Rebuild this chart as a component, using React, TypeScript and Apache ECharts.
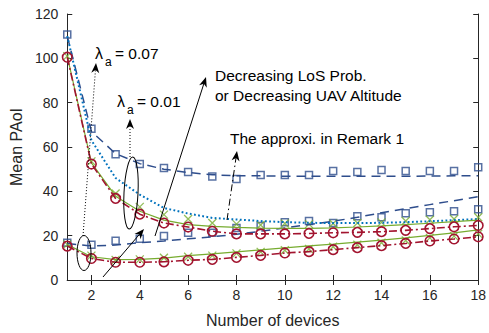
import React, { useEffect, useRef } from "react";
import * as echarts from "echarts";

const devices = [1, 2, 3, 4, 5, 6, 7, 8, 9, 10, 11, 12, 13, 14, 15, 16, 17, 18];
const xTicks = [2, 4, 6, 8, 10, 12, 14, 16, 18];

// lambda_a = 0.01 group (upper)
const blueUpperApprox = [110, 67, 57, 52.5, 50, 48.5, 47.5, 47, 47, 46.8, 46.8, 46.8, 46.8, 46.8, 46.8, 46.9, 47, 47];
const blueUpperSim = [110.7, 68.2, 56.7, 52.3, 50.5, 48.7, 46.7, 45.6, 47.4, 47.4, 47.4, 49.2, 48.7, 49.6, 49.2, 49.2, 49.2, 50.9];
const remarkApprox = [110, 63, 46, 38.5, 32.5, 30, 28, 27.3, 26.6, 26.1, 25.8, 25.7, 25.7, 25.8, 26.1, 26.5, 27, 27.5];
const greenUpperApprox = [101, 52.8, 37.8, 31, 27, 25, 24.2, 23.7, 23.4, 23.3, 23.3, 23.5, 23.9, 24.4, 25, 25.6, 26.3, 27];
const greenUpperSim = [101, 53.5, 39, 33, 29.5, 27.5, 25.7, 25.2, 24.8, 25.5, 25.2, 25.5, 25.7, 26, 26.6, 27.2, 27.5, 28.3];
const redUpper = [100.5, 52.3, 36.8, 29.7, 25.7, 23.9, 22, 20.8, 20.8, 20.8, 21, 21.3, 21.5, 21.8, 22.4, 23.2, 24, 24.6];

// lambda_a = 0.07 group (lower)
const blueLowerApprox = [16.5, 15.3, 15.8, 16.8, 17.6, 18.6, 19.5, 20.6, 22, 23.5, 25, 26.5, 28.3, 30.3, 32.2, 34, 35.8, 37.6];
const blueLowerSim = [16.8, 15.9, 17.7, 18.6, 19.9, 21.3, 21.3, 23.5, 24.4, 26.1, 26.6, 25.7, 28.8, 28.3, 30.1, 30.6, 31, 31.9];
const greenLowerApprox = [16, 10.5, 9.2, 9.3, 9.9, 11, 11.8, 12.7, 13.6, 14.5, 15.4, 16.2, 17.1, 18, 19, 20.1, 21.3, 22.6];
const greenLowerSim = [16, 11, 9, 9.3, 10, 10.5, 11, 12, 12.7, 13.4, 14, 15, 15.9, 16.8, 17.8, 19, 19.8, 20.8];
const redLower = [15.3, 9.7, 8, 8, 8.2, 8.9, 9.3, 10.2, 11.1, 12.2, 12.8, 13.7, 14.6, 15.5, 16.5, 17.6, 18.5, 19.5];

const DARK_BLUE = "#2E4D8C";
const LIGHT_BLUE = "#0072BD";
const RED = "#A2142F";
const GREEN = "#77AC30";
const AXIS = "#262626";
const FONT = "'Liberation Sans', Arial, Helvetica, sans-serif";

const pairs = (ys: number[]) => devices.map((x, i) => [x, ys[i]]);

function arrowHead(x1: number, y1: number, x2: number, y2: number, len = 10, half = 4) {
  const dx = x2 - x1;
  const dy = y2 - y1;
  const n = Math.sqrt(dx * dx + dy * dy);
  const ux = dx / n;
  const uy = dy / n;
  const px = -uy;
  const py = ux;
  const bx = x2 - ux * len;
  const by = y2 - uy * len;
  const nx = x2 - ux * len * 0.7;
  const ny = y2 - uy * len * 0.7;
  return {
    type: "polygon",
    shape: {
      points: [
        [x2, y2],
        [bx + px * half, by + py * half],
        [nx, ny],
        [bx - px * half, by - py * half],
      ],
    },
    style: { fill: "#000" },
    z: 100,
  };
}

function arrow(x1: number, y1: number, x2: number, y2: number, dash: any) {
  const dx = x2 - x1;
  const dy = y2 - y1;
  const n = Math.sqrt(dx * dx + dy * dy);
  const ex = x2 - (dx / n) * 6;
  const ey = y2 - (dy / n) * 6;
  return [
    {
      type: "line",
      shape: { x1, y1, x2: ex, y2: ey },
      style: { stroke: "#000", lineWidth: 1, lineDash: dash },
      z: 100,
    },
    arrowHead(x1, y1, x2, y2),
  ];
}

function txt(text: string, x: number, y: number, size: number) {
  return {
    type: "text",
    x,
    y,
    style: { text, fontSize: size, fontFamily: FONT, fill: "#000", verticalAlign: "middle", align: "left" },
    z: 100,
  };
}

export default function App() {
  const ref = useRef<HTMLDivElement>(null);
  useEffect(() => {
    if (!ref.current) return;
    const chart = echarts.init(ref.current, undefined, { renderer: "svg" });
    const sq = { symbol: "rect", symbolSize: 7, itemStyle: { color: "rgba(0,0,0,0)", borderColor: DARK_BLUE, borderWidth: 1.5 } };
    const xm = {
      symbol: "path://M0 0L10 10M10 0L0 10",
      symbolSize: 8,
      itemStyle: { color: "rgba(0,0,0,0)", borderColor: GREEN, borderWidth: 1.3 },
    };
    const circ = { symbol: "circle", symbolSize: 9.5, itemStyle: { color: "rgba(0,0,0,0)", borderColor: RED, borderWidth: 1.6 } };
    const lineSeries = (data: number[], color: string, type: any, width = 1.5) => ({
      type: "line",
      data: pairs(data),
      symbol: "none",
      lineStyle: { color, width, type },
      silent: true,
    });
    const scatter = (data: number[], m: any) => ({ type: "scatter", data: pairs(data), ...m, silent: true });

    const dashDot = [8, 3, 2, 3];
    const option: any = {
      animation: false,
      backgroundColor: "#fff",
      grid: { left: 65, top: 14, width: 415, height: 271, containLabel: false },
      xAxis: [
        {
          type: "value",
          min: 1,
          max: 18,
          name: "Number of devices",
          nameLocation: "middle",
          nameGap: 32,
          nameTextStyle: { fontSize: 16, fontFamily: FONT, color: AXIS },
          axisLine: { lineStyle: { color: AXIS, width: 1 } },
          axisTick: { inside: true, length: 5, customValues: xTicks, lineStyle: { color: AXIS } },
          axisLabel: { customValues: xTicks, fontSize: 14, fontFamily: FONT, color: AXIS, margin: 8 },
          splitLine: { show: false },
        },
        {
          type: "value",
          position: "top",
          min: 1,
          max: 18,
          axisLine: { lineStyle: { color: AXIS, width: 1 } },
          axisTick: { inside: true, length: 5, customValues: xTicks, lineStyle: { color: AXIS } },
          axisLabel: { show: false },
          splitLine: { show: false },
        },
      ],
      yAxis: [
        {
          type: "value",
          min: 0,
          max: 120,
          interval: 20,
          name: "Mean PAoI",
          nameLocation: "middle",
          nameGap: 43,
          nameTextStyle: { fontSize: 16, fontFamily: FONT, color: AXIS },
          axisLine: { show: true, lineStyle: { color: AXIS, width: 1 } },
          axisTick: { show: true, inside: true, length: 5, lineStyle: { color: AXIS } },
          axisLabel: { fontSize: 14, fontFamily: FONT, color: AXIS, margin: 9 },
          splitLine: { show: false },
        },
        {
          type: "value",
          position: "right",
          min: 0,
          max: 120,
          interval: 20,
          axisLine: { show: true, lineStyle: { color: AXIS, width: 1 } },
          axisTick: { show: true, inside: true, length: 5, lineStyle: { color: AXIS } },
          axisLabel: { show: false },
          splitLine: { show: false },
        },
      ],
      series: [
        lineSeries(blueUpperApprox, DARK_BLUE, [9, 6]),
        lineSeries(blueLowerApprox, DARK_BLUE, [9, 6]),
        scatter(blueUpperSim, sq),
        scatter(blueLowerSim, sq),
        lineSeries(remarkApprox, LIGHT_BLUE, [1.8, 2.4], 2),
        lineSeries(greenUpperApprox, GREEN, "solid", 1.2),
        lineSeries(greenLowerApprox, GREEN, "solid", 1.2),
        scatter(greenUpperSim, xm),
        scatter(greenLowerSim, xm),
        { ...lineSeries(redUpper, RED, dashDot, 1.6), symbol: circ.symbol, symbolSize: circ.symbolSize, showSymbol: true, itemStyle: circ.itemStyle },
        { ...lineSeries(redLower, RED, dashDot, 1.6), symbol: circ.symbol, symbolSize: circ.symbolSize, showSymbol: true, itemStyle: circ.itemStyle },
      ],
      graphic: [
        { type: "ellipse", x: 84, y: 253, shape: { cx: 0, cy: 0, rx: 7, ry: 17.5 }, style: { fill: "none", stroke: "#000", lineWidth: 1 }, z: 100 },
        { type: "ellipse", x: 131, y: 193, rotation: -0.05, shape: { cx: 0, cy: 0, rx: 7, ry: 36 }, style: { fill: "none", stroke: "#000", lineWidth: 1 }, z: 100 },
        ...arrow(83, 236, 96, 63, [1, 2]),
        ...arrow(130, 157, 130, 119, [1, 2]),
        ...arrow(103, 277, 144, 229, null),
        ...arrow(155, 236, 206, 77, null),
        ...arrow(227, 220, 237, 151, [7, 3, 1.5, 3]),
        txt("λ", 95, 53, 16),
        txt("a", 105, 62, 12),
        txt("= 0.07", 115, 53, 15.5),
        txt("λ", 117, 101, 16),
        txt("a", 127, 110, 12),
        txt("= 0.01", 137, 101, 15.5),
        txt("Decreasing LoS Prob.", 215, 75, 15.5),
        txt("or Decreasing UAV Altitude", 215, 95, 15.5),
        txt("The approxi. in Remark 1", 230, 138, 15.5),
      ],
    };
    chart.setOption(option);
    return () => chart.dispose();
  }, []);
  return <div ref={ref} style={{ width: 489, height: 333, position: "absolute", left: 0, top: 0 }} />;
}
